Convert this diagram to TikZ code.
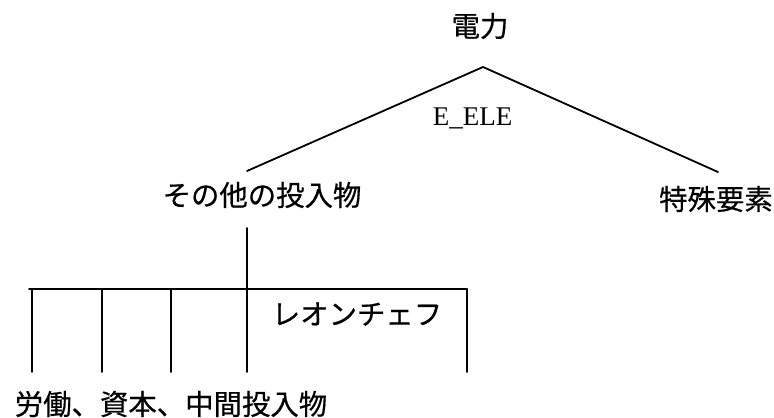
\documentclass[tikz,border=0pt]{standalone}
\usepackage{fontspec}
\setmainfont{Liberation Serif}
\newfontfamily\jpfont[FakeBold=0.5]{Noto Sans CJK JP}

\tikzset{
    jplabel/.style={inner sep=0pt, font=\jpfont\fontsize{14.2}{17}\selectfont},
    serlabel/.style={inner sep=0pt, font=\fontsize{13.5}{16}\selectfont},
    branch/.style={line width=0.9pt, line cap=round}
}

\begin{document}
\begin{tikzpicture}[x=0.5pt, y=-0.5pt]
    \useasboundingbox (0,0) rectangle (774,417);

    \def\barY{289}
    \def\legY{372}

    % Top level
    \node[jplabel] (power) at (480,26) {電力};
    \coordinate (apex) at (483,67);
    \coordinate (leftEnd) at (247,171);
    \coordinate (rightEnd) at (718,172);

    \draw[branch] (leftEnd) -- (apex) -- (rightEnd);
    \node[serlabel, anchor=base] (elas) at (472.5,125) {E\_ELE};

    % Second level
    \node[jplabel] (other) at (262,195) {その他の投入物};
    \node[jplabel] (special) at (716,199) {特殊要素};

    % Stem and bar
    \coordinate (stemTop) at (247,228);
    \coordinate (stemBot) at (247,\barY);
    \coordinate (barL) at (29,\barY);
    \coordinate (barR) at (467,\barY);
    \draw[branch] (stemTop) -- (stemBot);
    \draw[branch] (barL) -- (barR);

    % Legs
    \foreach \x in {32,102,171,247,467}
        \draw[branch] (\x,\barY) -- (\x,\legY);

    \node[jplabel] (leontief) at (357,314) {レオンチェフ};
    \node[jplabel] (inputs) at (171,404) {労働、資本、中間投入物};

\end{tikzpicture}
\end{document}
